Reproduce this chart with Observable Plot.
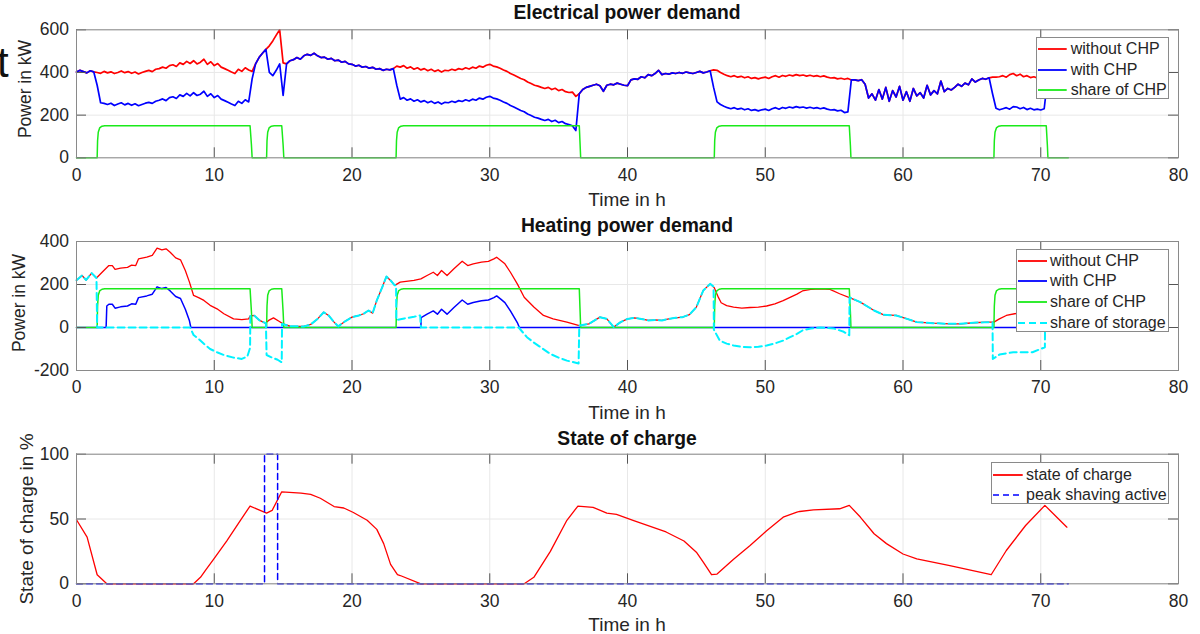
<!DOCTYPE html>
<html>
<head>
<meta charset="utf-8">
<script src="https://cdn.jsdelivr.net/npm/d3@7"></script>
<script src="https://cdn.jsdelivr.net/npm/@observablehq/plot@0.6"></script>
<style>
  body { margin: 0; background: #fff; }
  #wrap { position: relative; width: 1200px; height: 634px; overflow: hidden; background: #fff;
          font-family: "Liberation Sans", Arial, sans-serif; }
  .panel { position: absolute; left: 0; }
  .lbl { position: absolute; white-space: nowrap; line-height: 1; color: #262626; transform: translate(-50%, -50%); }
  .title { font-weight: bold; font-size: 19.3px; color: #111; }
  .xl { font-size: 19px; }
  .yl { transform: translate(-50%, -50%) rotate(-90deg); }
  .legend { position: absolute; background: #fff; border: 1px solid #8a8a8a; box-sizing: border-box; }
  .ltext { position: absolute; white-space: nowrap; line-height: 1; font-size: 16px; color: #262626; transform: translateY(-50%); }
  .lsvg { position: absolute; overflow: visible; }
</style>
</head>
<body>
<div id="wrap"></div>
<script>
// ---------------- DATA ----------------
const xTicks = [0, 10, 20, 30, 40, 50, 60, 70, 80];
const elecTicks = [0, 200, 400, 600];
const heatTicks = [-200, 0, 200, 400];
const socTicks = [0, 50, 100];

// electrical demand, sampled every 0.25 h from 0 to 72 h (one group of 4 = one hour)
const elecWithoutCHP = [
  402,410,404,398, 408,403,400,396, 405,398,403,395, 400,407,399,404,
  396,402,393,400, 405,410,404,415, 418,425,420,432, 436,428,445,438,
  452,442,455,440, 448,462,438,450, 432,442,425,418, 410,402,395,415,
  405,422,412,405, 440,470,490,508, 525,548,575,600, 445,440,455,460,
  470,462,478,485, 480,490,478,470, 472,462,466,455, 458,448,452,440,
  438,430,434,425, 428,420,424,415, 418,410,415,412, 418,430,425,432,
  420,426,415,422, 412,418,408,415, 405,412,402,410, 408,415,410,418,
  414,422,416,425, 420,430,425,434, 438,430,426,420, 412,405,395,388,
  380,372,366,355, 348,340,336,330, 325,330,320,326, 315,320,310,306,
  308,288,300,320, 330,335,340,345, 338,312,340,345, 342,350,345,340,
  338,365,370,368, 380,375,390,385, 395,410,390,395, 392,398,395,400,
  396,402,398,395, 400,405,398,402, 408,412,410,400, 392,385,380,385,
  378,382,375,380, 372,376,370,375, 378,372,380,385, 378,386,382,388,
  384,390,385,388, 383,387,382,385, 380,384,378,374, 376,370,373,368,
  372,365,365,362, 366,345,280,300, 270,320,275,330, 265,315,285,335,
  270,310,265,325, 290,305,280,340, 295,315,300,360, 310,325,318,330,
  345,335,350,342, 370,355,365,372, 368,375,378,378, 380,385,378,390,
  395,385,392,380, 385,376,380,374, 378,372,372,375, 370,372,368,370,
  372
];
const elecWithCHP = [
  402,410,404,398, 408,403,340,258, 255,250,256,245, 252,258,248,255,
  246,253,244,250, 256,260,255,265, 270,276,268,282, 286,278,295,288,
  302,290,305,292, 298,312,288,300, 282,292,275,268, 260,252,245,265,
  255,272,262,370, 440,470,490,508, 400,385,410,440, 292,440,455,460,
  470,462,478,485, 480,490,478,470, 472,462,466,455, 458,448,452,440,
  438,430,434,425, 428,420,424,415, 418,410,415,412, 418,340,275,282,
  270,276,265,272, 262,268,258,265, 255,262,252,260, 258,265,260,268,
  264,272,266,275, 270,280,275,284, 288,280,276,270, 262,255,245,238,
  230,222,216,205, 198,190,186,180, 175,180,170,176, 165,170,160,156,
  150,128,300,320, 330,335,340,345, 338,312,340,345, 342,350,345,340,
  338,365,370,368, 380,375,390,385, 395,410,390,395, 392,398,395,400,
  396,402,398,395, 400,405,398,402, 408,330,262,250, 242,235,230,235,
  228,232,225,230, 222,226,220,225, 228,222,230,235, 228,236,232,238,
  234,240,235,238, 233,237,232,235, 230,234,228,224, 226,220,223,212,
  215,365,365,362, 366,345,280,300, 270,320,275,330, 265,315,285,335,
  270,310,265,325, 290,305,280,340, 295,315,300,360, 310,325,318,330,
  345,335,350,342, 370,355,365,372, 368,375,300,232, 225,230,235,228,
  240,238,230,236, 226,232,225,228, 224,230,372,375, 370,372,368,370,
  372
];

// CHP switching profile (time in h) and its electrical / heating share in kW
const chpTime = [0,
  1.5,1.53,1.58,1.68,1.85,2.05, 12.6,12.7,12.75,
  13.8,13.83,13.88,13.98,14.15,14.35, 14.9,15.0,15.05,
  23.2,23.23,23.28,23.38,23.55,23.75, 36.5,36.56,36.6,
  46.3,46.33,46.38,46.48,46.65,46.85, 56.1,56.18,56.22,
  66.6,66.63,66.68,66.78,66.95,67.15, 70.4,70.48,70.52,
  72];
const chpElecShare = [0,
  0,80,120,140,148,150, 150,60,0,
  0,80,120,140,148,150, 150,60,0,
  0,80,120,140,148,150, 150,60,0,
  0,80,120,140,148,150, 150,60,0,
  0,80,120,140,148,150, 150,60,0,
  0];
const chpHeatShare = [0,
  0,100,150,170,178,180, 180,72,0,
  0,100,150,170,178,180, 180,72,0,
  0,100,150,170,178,180, 180,72,0,
  0,100,150,170,178,180, 180,72,0,
  0,100,150,170,178,180, 180,72,0,
  0];

// heating demand [time h, kW]
const heatWithoutCHP = [
  [0,220],[0.4,242],[0.7,221],[1.1,253],[1.45,230],[1.86,257],[2.35,288],[2.6,288],[2.8,270],[3.2,276],
  [3.7,280],[4.0,290],[4.3,288],[4.5,319],[5.1,327],[5.5,335],[5.85,369],[6.2,361],[6.5,366],[6.8,350],
  [7.2,324],[7.55,315],[7.9,265],[8.2,211],[8.5,149],[8.9,138],[9.25,126],[9.7,103],[10.2,87],[10.7,64],
  [11.4,40],[12.0,37],[12.5,40],[12.6,53],[12.9,56],[13.3,33],[13.7,20],[13.95,33],[14.3,45],[14.7,29],
  [15.0,17],[15.5,6],[16.5,5],[17.0,14],[17.5,40],[17.95,71],[18.3,56],[18.7,25],[19.0,5],[19.5,29],
  [20.0,48],[20.5,56],[20.85,64],[21.2,79],[21.5,67],[21.8,126],[22.2,188],[22.5,237],[22.8,219],[23.1,196],
  [23.5,211],[24.5,219],[25.0,226],[25.45,242],[25.9,257],[26.2,242],[26.5,265],[26.9,242],[27.4,273],[28.0,308],
  [28.4,288],[28.8,296],[29.4,304],[29.9,308],[30.3,319],[30.5,327],[30.8,312],[31.1,296],[31.5,257],[32.0,203],
  [32.5,141],[33.2,95],[33.9,56],[34.6,40],[35.6,25],[36.5,9],[37.2,17],[38.0,48],[38.5,40],[39.0,2],
  [39.5,25],[40.0,40],[40.5,45],[41.0,40],[41.5,33],[42.0,35],[42.5,33],[43.0,40],[43.5,45],[44.0,48],
  [44.5,60],[45.0,95],[45.5,172],[46.0,203],[46.3,185],[46.6,140],[46.8,115],[47.2,102],[47.7,95],[48.3,90],
  [48.9,93],[49.5,95],[50.1,100],[50.7,110],[51.3,125],[51.8,140],[52.3,155],[52.7,170],[53.3,177],[54.0,180],
  [54.7,177],[55.4,157],[56.2,137],[56.9,118],[57.9,79],[58.6,59],[59.5,56],[60.3,40],[61.0,25],[62.2,20],
  [63.4,17],[64.2,17],[65.1,22],[66.1,25],[66.6,25],[67.0,40],[67.5,56],[68.1,64],[68.8,68],[69.5,72],
  [70.3,70],[71.0,65],[72.0,60]
];
const heatWithCHP = [
  [0,0],[2.15,0],[2.2,100],[2.35,108],[2.6,108],[2.8,90],[3.2,96],[3.7,100],[4.0,110],[4.3,108],
  [4.5,139],[5.1,147],[5.5,155],[5.85,189],[6.2,181],[6.5,186],[6.8,170],[7.2,144],[7.55,135],[7.9,85],
  [8.2,31],[8.3,0],[25.0,0],[25.02,46],[25.45,62],[25.9,77],[26.2,62],[26.5,85],[26.9,62],[27.4,93],
  [28.0,128],[28.4,108],[28.8,116],[29.4,124],[29.9,128],[30.3,139],[30.5,147],[30.8,132],[31.1,116],[31.5,77],
  [32.0,23],[32.15,0],[72,0]
];
const heatStorageShare = [
  [0,220],[0.4,242],[0.7,221],[1.1,253],[1.45,230],[1.5,0],[8.25,0],[8.5,-35],[8.9,-55],[9.25,-76],
  [9.7,-100],[10.2,-115],[10.7,-128],[11.4,-140],[12.0,-146],[12.4,-135],[12.6,-95],[12.62,53],[12.9,56],[13.3,33],
  [13.75,20],[13.8,-128],[14.2,-140],[14.6,-150],[14.9,-162],[14.92,17],[15.5,6],[16.5,5],[17.0,14],[17.5,40],
  [17.95,71],[18.3,56],[18.7,25],[19.0,5],[19.5,29],[20.0,48],[20.5,56],[20.85,64],[21.2,79],[21.5,67],
  [21.8,126],[22.2,188],[22.5,237],[22.8,219],[23.1,196],[23.2,196],[23.22,35],[23.8,42],[24.5,50],[24.95,56],
  [25.0,0],[32.1,0],[32.7,-45],[33.2,-70],[33.7,-92],[34.4,-123],[35.0,-140],[35.6,-154],[36.45,-167],[36.5,9],
  [37.2,17],[38.0,48],[38.5,40],[39.0,2],[39.5,25],[40.0,40],[40.5,45],[41.0,40],[41.5,33],[42.0,35],
  [42.5,33],[43.0,40],[43.5,45],[44.0,48],[44.5,60],[45.0,95],[45.5,172],[46.0,203],[46.25,190],[46.27,-10],
  [46.7,-61],[47.2,-75],[47.7,-84],[48.3,-90],[48.9,-92],[49.5,-90],[50.1,-84],[50.7,-74],[51.3,-61],[51.8,-45],
  [52.3,-30],[52.7,-14],[53.3,-5],[54.0,0],[55.0,-5],[55.7,-20],[56.1,-36],[56.12,140],[56.9,118],[57.9,79],
  [58.6,59],[59.5,56],[60.3,40],[61.0,25],[62.2,20],[63.4,17],[64.2,17],[65.1,22],[66.1,25],[66.5,25],
  [66.52,-146],[67.0,-126],[68.0,-115],[69.4,-115],[70.3,-92],[70.32,70],[71.0,65],[72.0,60]
];

// state of charge [time h, %]
const stateOfCharge = [
  [0,49.4],[0.77,36],[1.5,7],[2.2,0],[8.5,0],[9.0,5],[9.4,11],[9.96,19],[10.9,33],[11.9,49],
  [12.6,60],[13.8,54.5],[14.2,56.6],[14.9,71],[16.3,70],[17.0,69],[17.7,66],[18.7,59.6],[19.4,58.5],[20.1,55],
  [21.1,49],[21.8,42],[22.3,31],[22.8,15],[23.3,7],[23.5,6.4],[25.0,0],[32.5,0],[33.2,5],[34.4,25],
  [35.6,49],[36.4,60],[37.5,59],[38.5,54.6],[39.2,53.5],[40.4,49],[42.8,40],[44.1,33],[45.0,24.4],[45.5,16.7],
  [46.1,7],[46.5,7.5],[47.7,19],[48.9,29.6],[50.1,41],[51.3,51.4],[52.3,55.3],[52.5,55.8],[53.5,57],[55.4,57.9],
  [56.1,60.5],[56.9,51.5],[57.9,38.6],[58.8,31],[60.0,23],[61.0,19.3],[63.4,14],[66.4,7],[67.5,25.7],[68.9,45],
  [70.3,60.5],[71.9,43.7]
];
const peakShavingTime = [0, 13.65, 13.65, 14.6, 14.6, 72];
const peakShavingActive = [0, 0, 100, 100, 0, 0];

// ---------------- DRAWING ----------------
const RED = "#ff0000", BLUE = "#0000ff", GREEN = "#1aea1a", CYAN = "#00f2ff";
const wrap = document.getElementById("wrap");

const elecTime = d3.range(0, 72.001, 0.25);
const zipGrid = vals => vals.map((v, i) => ({t: elecTime[i], v}));
const zipTime = (ts, vs) => ts.map((t, i) => ({t, v: vs[i]}));
const zipPairs = pairs => pairs.map(([t, v]) => ({t, v}));

function panel({top, height, mt, mb, yDomain, yTicks, marks}) {
  const W = 1200, ml = 76, mr = 22;
  const fw = W - ml - mr, fh = height - mt - mb;
  const svg = Plot.plot({
    width: W, height,
    marginLeft: ml, marginRight: mr, marginTop: mt, marginBottom: mb,
    style: {fontFamily: "'Liberation Sans', Arial, sans-serif", fontSize: "17.5px", color: "#262626",
            background: "transparent", overflow: "visible"},
    x: {domain: [0, 80], ticks: xTicks, tickSize: 0, tickPadding: 10.5, label: null, tickFormat: d => String(d)},
    y: {domain: yDomain, ticks: yTicks, tickSize: 0, tickPadding: 7.5, label: null, tickFormat: d => String(d)},
    marks: [
      Plot.ruleX(xTicks, {x: d => d, stroke: "#e8e8e8"}),
      Plot.ruleY(yTicks, {y: d => d, stroke: "#e8e8e8"}),
      ...marks,
      Plot.tickX(xTicks, {x: d => d, insetTop: fh - 10, stroke: "#555"}),
      Plot.tickX(xTicks, {x: d => d, insetBottom: fh - 10, stroke: "#555"}),
      Plot.tickY(yTicks, {y: d => d, insetRight: fw - 10, stroke: "#555"}),
      Plot.tickY(yTicks, {y: d => d, insetLeft: fw - 10, stroke: "#555"}),
      Plot.frame({stroke: "#8a8a8a"})
    ]
  });
  svg.classList.add("panel");
  svg.style.position = "absolute";
  svg.style.top = top + "px";
  svg.style.left = "0px";
  wrap.appendChild(svg);
}

const line = (data, stroke, w, dash) => Plot.line(data, {x: "t", y: "v", stroke, strokeWidth: w,
  strokeDasharray: dash, strokeLinejoin: "round"});

// Panel 1: electrical
panel({
  top: 0, height: 212, mt: 29.3, mb: 54.7, yDomain: [0, 600], yTicks: elecTicks,
  marks: [
    line(zipGrid(elecWithoutCHP), RED, 1.7),
    line(zipGrid(elecWithCHP), BLUE, 1.7),
    line(zipTime(chpTime, chpElecShare), GREEN, 1.5)
  ]
});
// Panel 2: heating
panel({
  top: 212, height: 212, mt: 29, mb: 54, yDomain: [-200, 400], yTicks: heatTicks,
  marks: [
    line(zipPairs(heatWithoutCHP), RED, 1.3),
    line(zipPairs(heatWithCHP), BLUE, 1.5),
    line(zipTime(chpTime, chpHeatShare), GREEN, 1.5),
    line(zipPairs(heatStorageShare), CYAN, 2, "7,4")
  ]
});
// Panel 3: state of charge
panel({
  top: 424, height: 210, mt: 29.7, mb: 50.7, yDomain: [0, 100], yTicks: socTicks,
  marks: [
    line(zipPairs(stateOfCharge), RED, 1.3),
    line(zipTime(peakShavingTime, peakShavingActive), BLUE, 1.5, "6,4")
  ]
});

// ---------------- TEXT ----------------
function label(text, cls, x, y, extraStyle = "") {
  const d = document.createElement("div");
  d.className = "lbl " + cls;
  d.textContent = text;
  d.style.cssText += `left:${x}px;top:${y}px;${extraStyle}`;
  wrap.appendChild(d);
}
label("Electrical power demand", "title", 627, 13);
label("Heating power demand", "title", 627, 226);
label("State of charge", "title", 627, 439.2);
label("Time in h", "xl", 627, 199);
label("Time in h", "xl", 627, 412);
label("Time in h", "xl", 627, 623.5);
label("Power in kW", "yl", 26, 88.5, "font-size:17.5px;");
label("Power in kW", "yl", 19.5, 303.3, "font-size:17.5px;");
label("State of charge in %", "yl", 25.5, 519.2, "font-size:19px;");

// cropped glyph at the left edge of the source image
const tg = document.createElement("div");
tg.textContent = "t";
tg.style.cssText = "position:absolute;left:-3px;top:42.4px;font-size:42px;line-height:1;color:#111;";
wrap.appendChild(tg);

// ---------------- LEGENDS ----------------
function legend(box, rows, lineX0, lineX1, textX, entries) {
  const b = document.createElement("div");
  b.className = "legend";
  b.style.cssText += `left:${box[0]}px;top:${box[1]}px;width:${box[2]}px;height:${box[3]}px;`;
  wrap.appendChild(b);
  entries.forEach((e, i) => {
    const y = rows[i];
    const s = document.createElementNS("http://www.w3.org/2000/svg", "svg");
    s.setAttribute("class", "lsvg");
    s.setAttribute("width", lineX1 - lineX0);
    s.setAttribute("height", 4);
    s.style.left = lineX0 + "px";
    s.style.top = (y - 2) + "px";
    const l = document.createElementNS("http://www.w3.org/2000/svg", "line");
    l.setAttribute("x1", 0); l.setAttribute("x2", lineX1 - lineX0);
    l.setAttribute("y1", 2); l.setAttribute("y2", 2);
    l.setAttribute("stroke", e.color);
    l.setAttribute("stroke-width", e.w || 1.8);
    if (e.dash) l.setAttribute("stroke-dasharray", e.dash);
    s.appendChild(l);
    wrap.appendChild(s);
    const t = document.createElement("div");
    t.className = "ltext";
    t.textContent = e.label;
    t.style.left = textX + "px";
    t.style.top = y + "px";
    wrap.appendChild(t);
  });
}
legend([1035.7, 36.7, 133.6, 62.6], [49.3, 69.7, 90], 1038, 1066.7, 1070.7, [
  {label: "without CHP", color: RED},
  {label: "with CHP", color: BLUE},
  {label: "share of CHP", color: GREEN}
]);
legend([1015.7, 249.3, 153.3, 83], [261, 281.3, 301.7, 322.5], 1018, 1047, 1050, [
  {label: "without CHP", color: RED},
  {label: "with CHP", color: BLUE},
  {label: "share of CHP", color: GREEN},
  {label: "share of storage", color: CYAN, dash: "7,4", w: 2}
]);
legend([991, 462, 177.7, 42.3], [474.5, 495], 993, 1022.7, 1026, [
  {label: "state of charge", color: RED},
  {label: "peak shaving active", color: BLUE, dash: "6,4", w: 1.5}
]);

if (elecWithoutCHP.length !== elecTime.length || elecWithCHP.length !== elecTime.length ||
    chpElecShare.length !== chpTime.length || chpHeatShare.length !== chpTime.length) {
  throw new Error("length mismatch " + [elecWithoutCHP.length, elecWithCHP.length, elecTime.length,
    chpElecShare.length, chpHeatShare.length, chpTime.length].join(","));
}
</script>
</body>
</html>
